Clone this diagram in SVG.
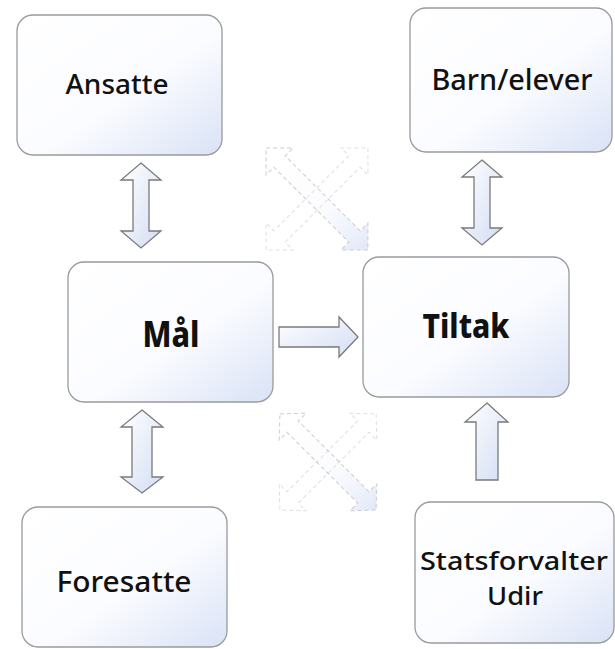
<svg xmlns="http://www.w3.org/2000/svg" width="615" height="649" viewBox="0 0 615 649">
  <defs>
    <linearGradient id="boxFill" x1="0" y1="0" x2="1" y2="1">
      <stop offset="0" stop-color="#ffffff"/>
      <stop offset="0.55" stop-color="#fbfcff"/>
      <stop offset="1" stop-color="#d9e2f6"/>
    </linearGradient>
    <linearGradient id="arrowFill" x1="0" y1="0" x2="1" y2="1">
      <stop offset="0" stop-color="#ffffff"/>
      <stop offset="1" stop-color="#d3ddf3"/>
    </linearGradient>
    <linearGradient id="faintFill" x1="0" y1="0" x2="0" y2="1">
      <stop offset="0" stop-color="#ffffff" stop-opacity="0"/>
      <stop offset="0.55" stop-color="#eef2fb" stop-opacity="0.4"/>
      <stop offset="1" stop-color="#c3d1f2"/>
    </linearGradient>
    <style>
      .box { fill: url(#boxFill); stroke: #9a9a9a; stroke-width: 1.3; }
      .arrow { fill: url(#arrowFill); stroke: #7a7a7a; stroke-width: 1.3; stroke-linejoin: miter; }
      .faint { fill: url(#faintFill); stroke: #9c9c9c; stroke-width: 1; stroke-dasharray: 4 3; opacity: 0.5; }
      .faint2 { fill: none; stroke: #b0b0b0; stroke-width: 1; stroke-dasharray: 4 3; opacity: 0.4; }
      .lbl { font-family: "Noto Sans", "Liberation Sans", sans-serif; font-weight: 500; fill: #111; text-anchor: middle; }
      .big { font-family: "Noto Sans", "Liberation Sans", sans-serif; font-weight: 800; fill: #111; text-anchor: middle; }
    </style>
  </defs>
  <rect width="615" height="649" fill="#ffffff"/>

  <g id="ansatte">
    <rect class="box" x="17" y="15" width="205" height="140" rx="16"/>
    <text class="lbl" x="117" y="94" font-size="27" textLength="103" lengthAdjust="spacingAndGlyphs">Ansatte</text>
  </g>
  <g id="barn-elever">
    <rect class="box" x="410" y="8" width="202" height="144" rx="16"/>
    <text class="lbl" x="512" y="90" font-size="28" textLength="161" lengthAdjust="spacingAndGlyphs">Barn/elever</text>
  </g>
  <g id="maal">
    <rect class="box" x="68" y="262" width="205" height="140" rx="16"/>
    <text class="big" x="171" y="347" font-size="35" textLength="57" lengthAdjust="spacingAndGlyphs">Mål</text>
  </g>
  <g id="tiltak">
    <rect class="box" x="363" y="257" width="206" height="140" rx="16"/>
    <text class="big" x="466" y="338" font-size="34" textLength="87" lengthAdjust="spacingAndGlyphs">Tiltak</text>
  </g>
  <g id="foresatte">
    <rect class="box" x="22" y="507" width="205" height="140" rx="16"/>
    <text class="lbl" x="124" y="592" font-size="29" textLength="135" lengthAdjust="spacingAndGlyphs">Foresatte</text>
  </g>
  <g id="statsforvalter-udir">
    <rect class="box" x="415" y="502" width="199" height="141" rx="16"/>
    <text class="lbl" x="514" y="570" font-size="25" textLength="188" lengthAdjust="spacingAndGlyphs">Statsforvalter</text>
    <text class="lbl" x="515" y="605" font-size="25" textLength="56" lengthAdjust="spacingAndGlyphs">Udir</text>
  </g>

  <g id="connectors">
    <polygon class="arrow" points="141,163 161,180 149,180 149,231 161,231 141,248 121,231 133,231 133,180 121,180"/>
    <polygon class="arrow" points="482,160 502,177 490,177 490,228 502,228 482,245 462,228 474,228 474,177 462,177"/>
    <polygon class="arrow" points="142,410 163,427 152,427 152,477 163,477 142,493 121,477 132,477 132,427 121,427"/>
    <polygon class="arrow" points="487,403 508,422 498,422 498,480 476,480 476,422 465,422"/>
    <polygon class="arrow" points="279,327 339,327 339,317 358,337 339,357 339,347 279,347"/>

    <g id="faint-x-top">
      <polygon class="faint2" transform="translate(317,199) rotate(45)" points="0,-72 19,-53 8,-53 8,53 19,53 0,72 -19,53 -8,53 -8,-53 -19,-53"/>
      <polygon class="faint" transform="translate(317,199) rotate(-45)" points="0,-72 19,-53 8,-53 8,53 19,53 0,72 -19,53 -8,53 -8,-53 -19,-53"/>
    </g>
    <g id="faint-x-bottom">
      <polygon class="faint2" transform="translate(328,462) rotate(45)" points="0,-68 19,-50 8,-50 8,50 19,50 0,68 -19,50 -8,50 -8,-50 -19,-50"/>
      <polygon class="faint" transform="translate(328,462) rotate(-45)" points="0,-68 19,-50 8,-50 8,50 19,50 0,68 -19,50 -8,50 -8,-50 -19,-50"/>
    </g>
  </g>
</svg>
